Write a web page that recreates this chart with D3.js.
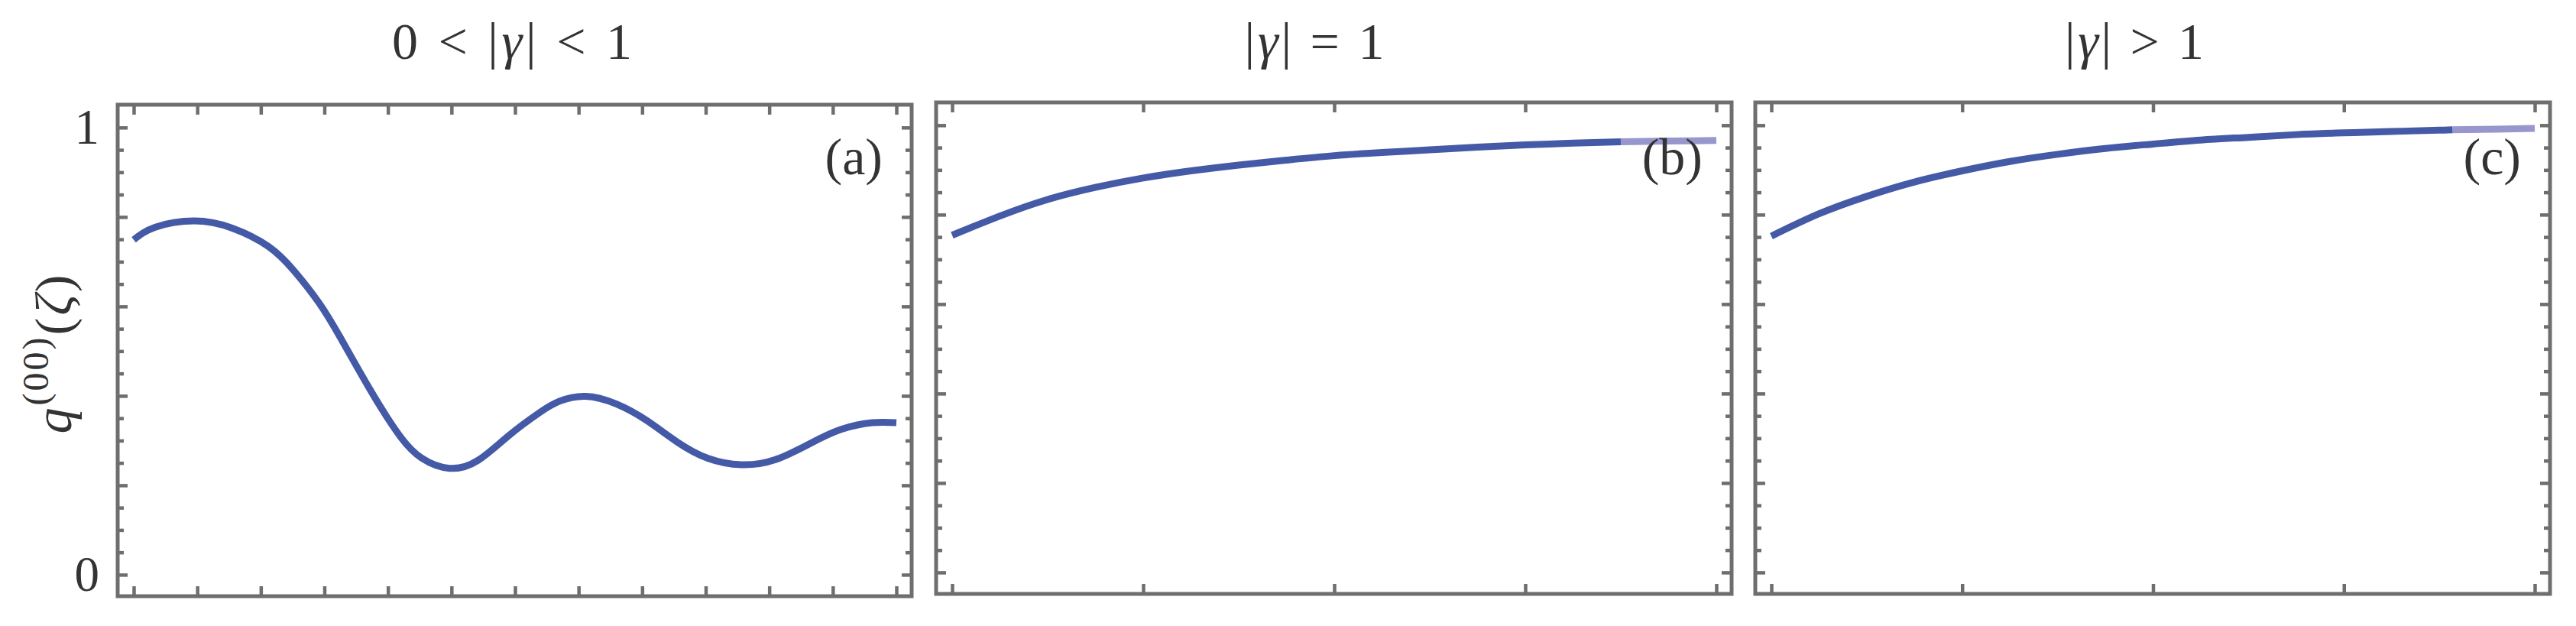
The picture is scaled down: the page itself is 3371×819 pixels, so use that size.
<!DOCTYPE html>
<html>
<head>
<meta charset="utf-8">
<script src="https://cdn.jsdelivr.net/npm/d3@7"></script>
<style>
  body { margin: 0; background: #fff; }
  svg { display: block; font-family: "Liberation Serif", serif; }
</style>
</head>
<body>
<svg width="3371" height="819"></svg>
<script>
// panel (a): 0 < |gamma| < 1
var xA = [0, 0.34, 0.95, 1.55, 2.12, 2.52, 2.92, 3.24, 3.56, 3.88, 4.21, 4.53, 4.97, 5.42, 5.90, 6.38, 6.70,
          7.11, 7.59, 8.07, 8.55, 9.04, 9.56, 10.09, 10.65, 11.13, 11.62, 12];
var qA = [0.749, 0.777, 0.791, 0.775, 0.734, 0.680, 0.607, 0.533, 0.453, 0.376, 0.306, 0.261, 0.238, 0.256, 0.311,
          0.362, 0.388, 0.399, 0.382, 0.345, 0.297, 0.260, 0.246, 0.257, 0.294, 0.325, 0.340, 0.340];

// panel (b): |gamma| = 1
var xB = [0, 0.25, 0.5, 0.75, 1, 1.25, 1.5, 1.75, 2, 2.25, 2.5, 2.75, 3, 3.25, 3.5];
var qB = [0.754, 0.797, 0.834, 0.861, 0.882, 0.898, 0.911, 0.922, 0.932, 0.939, 0.945, 0.951, 0.956, 0.960, 0.963];
var xBfade = [3.5, 3.75, 4];
var qBfade = [0.963, 0.9645, 0.966];

// panel (c): |gamma| > 1
var xC = [0, 0.25, 0.5, 0.75, 1, 1.25, 1.5, 1.75, 2, 2.25, 2.5, 2.75, 3, 3.25, 3.5, 3.57];
var qC = [0.752, 0.802, 0.841, 0.873, 0.898, 0.919, 0.935, 0.948, 0.958, 0.967, 0.973, 0.979, 0.983, 0.986, 0.989, 0.990];
var xCfade = [3.57, 3.8, 4];
var qCfade = [0.990, 0.991, 0.993];

// ticks
var xTicksA = [0, 1, 2, 3, 4, 5, 6, 7, 8, 9, 10, 11, 12];
var xTicksBC = [0, 1, 2, 3, 4];
var yMajor = [0, 0.2, 0.4, 0.6, 0.8, 1];
var yMinor = [0.05, 0.1, 0.15, 0.25, 0.3, 0.35, 0.45, 0.5, 0.55, 0.65, 0.7, 0.75, 0.85, 0.9, 0.95];
var yLabels = [0, 1];

var titles = [["0 < |", "γ", "| < 1"], ["|", "γ", "| = 1"], ["|", "γ", "| > 1"]];
var tags = ["(a)", "(b)", "(c)"];

var frameColor = "#6e6e6e";
var textColor = "#333333";
var lineColor = "#455aa6";
var fadeColor = "#9797cd";

var svg = d3.select("svg");

var panels = [
  {left: 154, right: 1193, top: 137, bottom: 780, xdom: [0, 12], xticks: xTicksA,
   series: [[xA, qA]], fade: null, labels: true, titleX: 670, titleLen: 314},
  {left: 1225, right: 2266, top: 134, bottom: 777, xdom: [0, 4], xticks: xTicksBC,
   series: [[xB, qB]], fade: [xBfade, qBfade], labels: false, titleX: 1720, titleLen: 183},
  {left: 2297, right: 3337, top: 134, bottom: 777, xdom: [0, 4], xticks: xTicksBC,
   series: [[xC, qC]], fade: [xCfade, qCfade], labels: false, titleX: 2793, titleLen: 182}
];

function styleAxis(sel){
  sel.select(".domain").remove();
  sel.selectAll("line").attr("stroke", frameColor).attr("stroke-width", 4.5);
  sel.selectAll("text").attr("fill", textColor)
    .attr("font-family", "'Liberation Serif', serif").attr("font-size", 65);
  sel.attr("font-family", null).attr("font-size", null);
}

panels.forEach(function(p, i){
  var x = d3.scaleLinear().domain(p.xdom).range([p.left + 21, p.right - 20]);
  var y = d3.scaleLinear().domain([-0.048, 1.051]).range([p.bottom, p.top]);
  var g = svg.append("g");

  // ticks, all pointing inward
  g.append("g").attr("transform", "translate(0," + p.bottom + ")")
    .call(d3.axisBottom(x).tickValues(p.xticks).tickSize(-13).tickFormat(""))
    .call(styleAxis);
  g.append("g").attr("transform", "translate(0," + p.top + ")")
    .call(d3.axisTop(x).tickValues(p.xticks).tickSize(-13).tickFormat(""))
    .call(styleAxis);
  g.append("g").attr("transform", "translate(" + p.left + ",0)")
    .call(d3.axisLeft(y).tickValues(yMajor).tickSize(-13).tickPadding(24)
      .tickFormat(function(d){ return (p.labels && yLabels.indexOf(d) >= 0) ? d : ""; }))
    .call(styleAxis);
  g.append("g").attr("transform", "translate(" + p.left + ",0)")
    .call(d3.axisLeft(y).tickValues(yMinor).tickSize(-8).tickFormat(""))
    .call(styleAxis);
  g.append("g").attr("transform", "translate(" + p.right + ",0)")
    .call(d3.axisRight(y).tickValues(yMajor).tickSize(-13).tickFormat(""))
    .call(styleAxis);
  g.append("g").attr("transform", "translate(" + p.right + ",0)")
    .call(d3.axisRight(y).tickValues(yMinor).tickSize(-8).tickFormat(""))
    .call(styleAxis);

  g.append("rect")
    .attr("x", p.left).attr("y", p.top)
    .attr("width", p.right - p.left).attr("height", p.bottom - p.top)
    .attr("fill", "none").attr("stroke", frameColor).attr("stroke-width", 5);

  var line = d3.line()
    .x(function(d){ return x(d[0]); })
    .y(function(d){ return y(d[1]); })
    .curve(d3.curveNatural);

  p.series.forEach(function(s){
    g.append("path")
      .datum(d3.zip(s[0], s[1]))
      .attr("d", line)
      .attr("fill", "none").attr("stroke", lineColor).attr("stroke-width", 9);
  });
  if (p.fade){
    g.append("path")
      .datum(d3.zip(p.fade[0], p.fade[1]))
      .attr("d", line)
      .attr("fill", "none").attr("stroke", fadeColor).attr("stroke-width", 9);
  }

  // panel tag
  g.append("text")
    .attr("x", p.right - 38).attr("y", 228)
    .attr("text-anchor", "end")
    .attr("font-size", 68).attr("fill", textColor)
    .text(tags[i]);

  // title
  var t = svg.append("text")
    .attr("x", p.titleX).attr("y", 77)
    .attr("text-anchor", "middle")
    .attr("font-size", 68).attr("fill", textColor)
    .attr("textLength", p.titleLen).attr("lengthAdjust", "spacing");
  titles[i].forEach(function(part, k){
    t.append("tspan").attr("font-style", k === 1 ? "italic" : null).text(part);
  });
});

// y axis label q^(00)(zeta)
var yl = svg.append("text")
  .attr("transform", "translate(93,462) rotate(-90)")
  .attr("text-anchor", "middle")
  .attr("font-size", 68).attr("fill", textColor)
  .attr("letter-spacing", 3);
yl.append("tspan").attr("font-style", "italic").text("q");
yl.append("tspan").attr("font-size", 48).attr("dy", -30).text("(00)");
yl.append("tspan").attr("dy", 30).text("(");
yl.append("tspan").attr("font-style", "italic").text("ζ");
yl.append("tspan").text(")");
</script>
</body>
</html>
